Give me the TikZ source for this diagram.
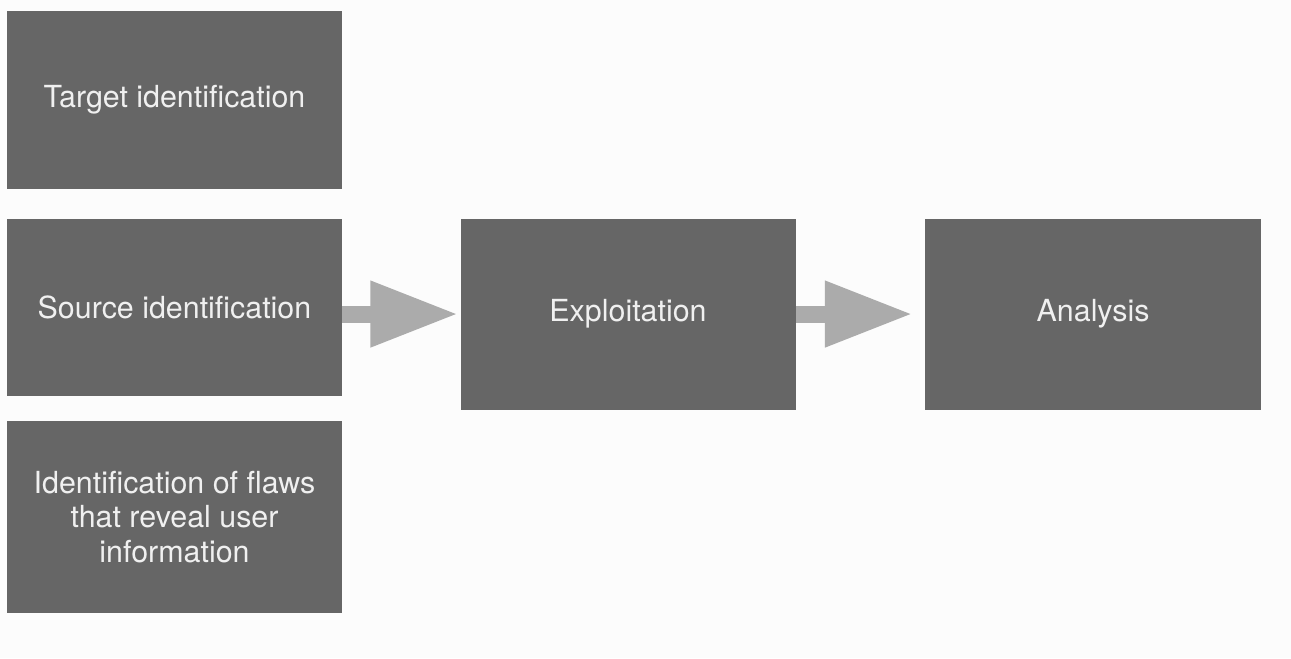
\documentclass[tikz,border=0pt]{standalone}
\usepackage{fontspec}
\setmainfont{TeX Gyre Heros}
\usetikzlibrary{positioning,arrows.meta}

\definecolor{boxgray}{HTML}{666666}
\definecolor{flowgray}{HTML}{ABABAB}
\definecolor{paper}{HTML}{FCFCFC}

\begin{document}
\begin{tikzpicture}[x=0.75pt,y=-0.75pt,
    box/.style={fill=boxgray, text=white!94!black, inner sep=0pt, align=center,
      minimum width=251.25pt, font=\fontsize{22.8}{26}\selectfont},
    flow/.style={draw=flowgray, line width=12.75pt,
      -{Triangle[length=66pt,width=46.5pt]}}]
    \fill[paper] (0,0) rectangle (1291,658);
    \useasboundingbox (0,0) rectangle (1291,658);

    \node[box, minimum height=133.5pt] (target) at (174.5,100) {Target identification};
    \node[box, minimum height=132.75pt, below=21.75pt of target] (source) {Source identification};
    \node[box, minimum height=144pt, below=18.75pt of source] (flaws)
        {Identification of flaws\\that reveal user\\information};
    \node[box, minimum height=143.25pt, anchor=north west] (exploit)
        at ([xshift=88.5pt]source.north east) {Exploitation};
    \node[box, minimum height=143.25pt, minimum width=252pt, right=96.75pt of exploit] (analysis) {Analysis};

    \draw[flow] (source.east |- exploit.west) -- ([xshift=-1.5pt]exploit.west);
    \draw[flow] (exploit.east) -- ([xshift=-9pt]analysis.west);
\end{tikzpicture}
\end{document}
